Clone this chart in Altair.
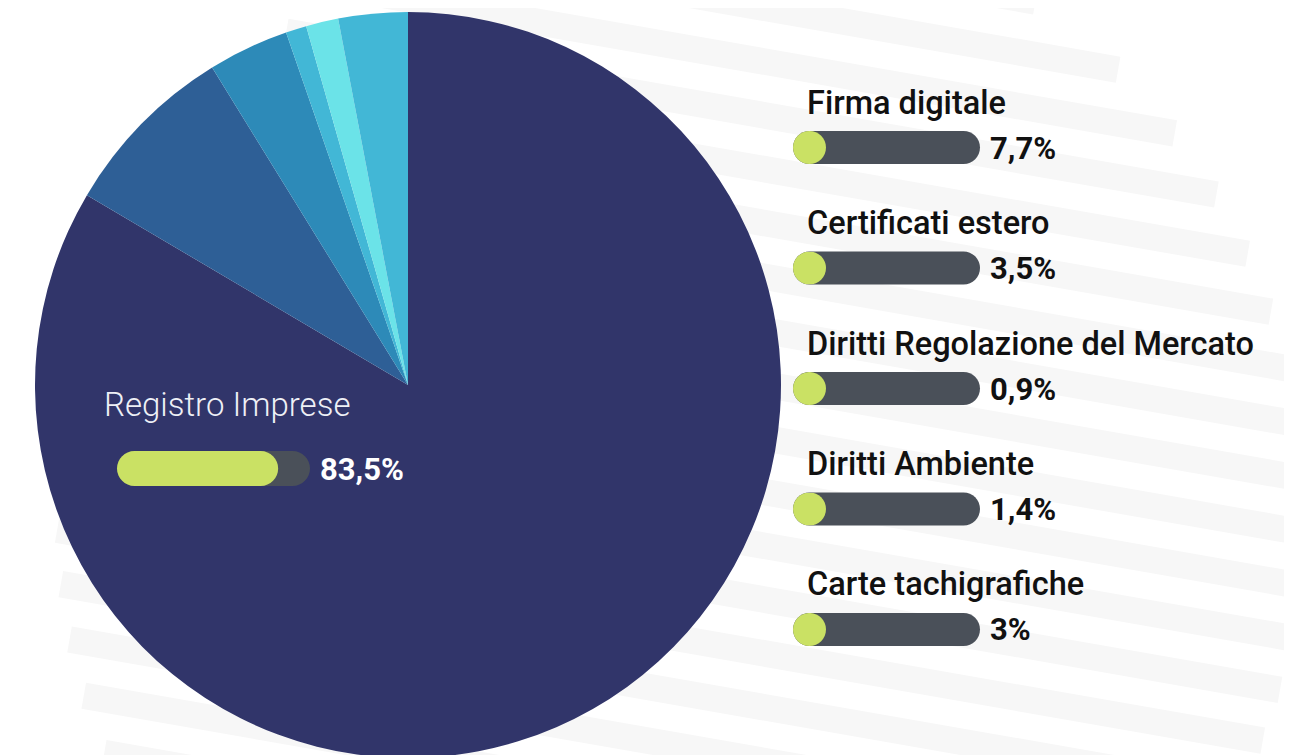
import altair as alt
import pandas as pd
import numpy as np

# ---- data -------------------------------------------------------------
categories = [
    "Registro Imprese",
    "Firma digitale",
    "Certificati estero",
    "Diritti Regolazione del Mercato",
    "Diritti Ambiente",
    "Carte tachigrafiche",
]
shares = [83.5, 7.7, 3.5, 0.9, 1.4, 3.0]

# ---- styles -----------------------------------------------------------
slice_colors = ["#31356a", "#2e5f96", "#2d8ab8", "#42b7d6", "#6be3e8", "#42b7d6"]
GREEN = "#cae164"
TRACK = "#4a5059"
FONT = "Roboto"

W, H = 1276, 747


def fmt(v):
    return f"{v:g}".replace(".", ",") + "%"


df = pd.DataFrame({"cat": categories, "share": shares})
df["idx"] = range(len(df))
df["lab"] = [fmt(v) for v in shares]

main = df.iloc[:1].copy()
rest = df.iloc[1:].copy()
rest_order = list(rest["cat"])

# ---- decorative background stripes (disc of light diagonal bands) -----
cx, cy, R = 673.0, 507.0, 624.0
a = np.arctan(0.175)
ux, uy = np.cos(a), np.sin(a)
nx, ny = -np.sin(a), np.cos(a)
period, d0 = 53.0, 122.0
ks = np.arange(-30, 31)
ds = d0 + period * ks
ds = ds[np.abs(ds) < R - 10]
half = np.sqrt(R ** 2 - ds ** 2)
px, py = cx + ds * nx, cy + ds * ny
stripes = pd.DataFrame({
    "x1": px - half * ux, "y1": py - half * uy,
    "x2": px + half * ux, "y2": py + half * uy,
})
bg = alt.Chart(stripes).mark_rule(strokeWidth=26.5, color="#f7f7f7", strokeCap="butt").encode(
    x=alt.X("x1:Q", scale=None, axis=None),
    y=alt.Y("y1:Q", scale=None, axis=None),
    x2="x2:Q",
    y2="y2:Q",
)

# ---- pie ----------------------------------------------------------------
pie = alt.Chart(df).mark_arc(radius=373).encode(
    theta=alt.Theta("share:Q", stack=True),
    color=alt.Color("cat:N", scale=alt.Scale(domain=categories, range=slice_colors), legend=None),
    order=alt.Order("idx:Q"),
    x=alt.value(400),
    y=alt.value(377),
)

# ---- main slice label inside the pie -------------------------------------
reg_scale = alt.Scale(domain=[0, 100], range=[109, 302])
reg_track = alt.Chart(main).mark_bar(cornerRadius=17.5, color=TRACK).encode(
    x=alt.value(109), x2=alt.value(302), y=alt.value(443), y2=alt.value(478)
)
reg_fill = alt.Chart(main).transform_calculate(z="0").mark_bar(cornerRadius=17.5, color=GREEN).encode(
    x=alt.X("z:Q", scale=reg_scale, axis=None), x2="share:Q",
    y=alt.value(443), y2=alt.value(478)
)
reg_name = alt.Chart(main).mark_text(
    font=FONT, fontSize=33, fontWeight=300, color="#eef0f6", align="left", baseline="alphabetic"
).encode(x=alt.value(96), y=alt.value(408), text="cat:N")
reg_val = alt.Chart(main).mark_text(
    font=FONT, fontSize=31, fontWeight="bold", color="#ffffff", align="left", baseline="alphabetic"
).encode(x=alt.value(312), y=alt.value(472), text="lab:N")

# ---- right-hand list -----------------------------------------------------
yscale = alt.Scale(type="band", range=[123, 638], paddingInner=0.726, paddingOuter=0)
Y = alt.Y("cat:N", sort=rest_order, scale=yscale, axis=None)
bar_scale = alt.Scale(domain=[0, 100], range=[785, 972])
min_pct = 100 * 33 / 187

track = alt.Chart(rest).mark_bar(cornerRadius=16.5, color=TRACK).encode(
    x=alt.value(785), x2=alt.value(972), y=Y
)
fill = alt.Chart(rest).transform_calculate(
    g=f"max(datum.share, {min_pct})"
).mark_bar(cornerRadius=16.5, color=GREEN).encode(
    x=alt.X("g:Q", scale=bar_scale, axis=None), y=Y
)
names = alt.Chart(rest).mark_text(
    font=FONT, fontSize=32.5, fontWeight=500, color="#111111", align="left", baseline="alphabetic", dy=-34
).encode(x=alt.value(799), y=Y, text="cat:N")
vals = alt.Chart(rest).mark_text(
    font=FONT, fontSize=31, fontWeight="bold", color="#111111", align="left", baseline="alphabetic", dy=11
).encode(x=alt.value(982), y=Y, text="lab:N")

chart = alt.layer(
    bg, pie, reg_track, reg_fill, reg_name, reg_val, track, fill, names, vals
).resolve_scale(
    x="independent", y="independent"
).properties(
    width=W, height=H, padding=0, autosize=alt.AutoSizeParams(type="none"), background="#ffffff"
).configure_view(stroke=None)

chart.save("out.html", embed_options={"renderer": "svg", "actions": False})
